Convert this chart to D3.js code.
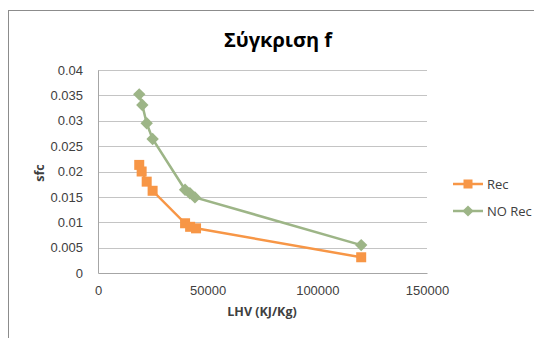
<!DOCTYPE html>
<html>
<head>
<meta charset="utf-8">
<script src="https://cdn.jsdelivr.net/npm/d3@7"></script>
<style>
  body { margin: 0; background: #fff; }
  svg { display: block; font-family: "Open Sans", "Liberation Sans", sans-serif; }
  .tick text { fill: #404040; font-size: 13px; }
</style>
</head>
<body>
<svg width="534" height="338"></svg>
<script>
// data
var recLhv   = [18800, 19900, 22200, 24900, 39700, 42000, 44700, 120000];
var recSfc   = [0.0213, 0.0200, 0.0180, 0.0162, 0.0098, 0.0091, 0.0088, 0.0031];
var noRecLhv = [18800, 20200, 22200, 24900, 39700, 41900, 44200, 120000];
var noRecSfc = [0.0352, 0.0331, 0.0295, 0.0264, 0.0164, 0.0157, 0.0149, 0.0055];
var xTicks = [0, 50000, 100000, 150000];
var yTicks = [0, 0.005, 0.01, 0.015, 0.02, 0.025, 0.03, 0.035, 0.04];

var series = [
  {name: "Rec", color: "#F79646", shape: "square",
   points: recLhv.map(function(d, i) { return [d, recSfc[i]]; })},
  {name: "NO Rec", color: "#9DB587", shape: "diamond",
   points: noRecLhv.map(function(d, i) { return [d, noRecSfc[i]]; })}
];

var svg = d3.select("svg");

// outer chart frame
svg.append("rect")
    .attr("x", 8.5).attr("y", 10.5)
    .attr("width", 560).attr("height", 360)
    .attr("fill", "none").attr("stroke", "#8c8c8c");

var margin = {top: 70, left: 98},
    width = 329, height = 203;

var x = d3.scaleLinear().domain([0, 150000]).range([0, width]),
    y = d3.scaleLinear().domain([0, 0.04]).range([height, 0]);

var g = svg.append("g")
    .attr("transform", "translate(" + margin.left + "," + margin.top + ")");

// gridlines
g.selectAll(".grid")
    .data(yTicks.slice(1))
    .enter().append("line")
    .attr("x1", 0).attr("x2", width)
    .attr("y1", function(d) { return Math.round(y(d)) + 0.5; })
    .attr("y2", function(d) { return Math.round(y(d)) + 0.5; })
    .attr("stroke", "#c4c4c4");

var xAxis = d3.axisBottom(x).tickValues(xTicks).tickFormat(d3.format("d")).tickSize(0).tickPadding(13);
var yAxis = d3.axisLeft(y).tickValues(yTicks).tickFormat(function(d) { return d === 0 ? "0" : d3.format("")(+d.toFixed(3)); }).tickSize(0).tickPadding(15);

g.append("g").attr("transform", "translate(0," + height + ")").call(xAxis)
    .call(function(s) { s.select(".domain").attr("stroke", "#a6a6a6"); });
g.append("g").call(yAxis)
    .call(function(s) { s.select(".domain").attr("stroke", "#a6a6a6"); });

var line = d3.line()
    .x(function(d) { return x(d[0]); })
    .y(function(d) { return y(d[1]); });

function marker(sel, shape, color, size) {
  if (shape === "square") {
    sel.append("rect")
        .attr("x", -size / 2).attr("y", -size / 2)
        .attr("width", size).attr("height", size)
        .attr("fill", color);
  } else {
    var r = size * 0.62;
    sel.append("path")
        .attr("d", "M0," + (-r) + "L" + r + ",0L0," + r + "L" + (-r) + ",0Z")
        .attr("fill", color);
  }
}

// draw green first so orange sits on top
series.slice().reverse().forEach(function(s) {
  g.append("path")
      .datum(s.points)
      .attr("d", line)
      .attr("fill", "none")
      .attr("stroke", s.color)
      .attr("stroke-width", 2.5);

  g.selectAll(null)
      .data(s.points)
      .enter().append("g")
      .attr("transform", function(d) { return "translate(" + x(d[0]) + "," + y(d[1]) + ")"; })
      .each(function() { marker(d3.select(this), s.shape, s.color, 10); });
});

// legend
var legend = svg.append("g").attr("transform", "translate(453,184)");
series.forEach(function(s, i) {
  var row = legend.append("g").attr("transform", "translate(0," + (i * 27) + ")");
  row.append("line").attr("x1", 0).attr("x2", 30)
      .attr("stroke", s.color).attr("stroke-width", 2.5);
  var m = row.append("g").attr("transform", "translate(15,0)");
  marker(m, s.shape, s.color, 9);
  row.append("text").attr("x", 34).attr("y", 5)
      .attr("fill", "#404040").attr("font-size", 13).text(s.name);
});

// title & axis labels
svg.append("text")
    .attr("x", 278).attr("y", 47)
    .attr("text-anchor", "middle")
    .attr("font-size", 20).attr("font-weight", "bold")
    .attr("fill", "#000")
    .text("Σύγκριση f");

svg.append("text")
    .attr("x", 262).attr("y", 316)
    .attr("text-anchor", "middle")
    .attr("font-size", 12.5).attr("font-weight", "bold")
    .attr("fill", "#404040")
    .text("LHV (KJ/Kg)");

svg.append("text")
    .attr("transform", "translate(44,173) rotate(-90)")
    .attr("text-anchor", "middle")
    .attr("font-size", 12.5).attr("font-weight", "bold")
    .attr("fill", "#404040")
    .text("sfc");
</script>
</body>
</html>
